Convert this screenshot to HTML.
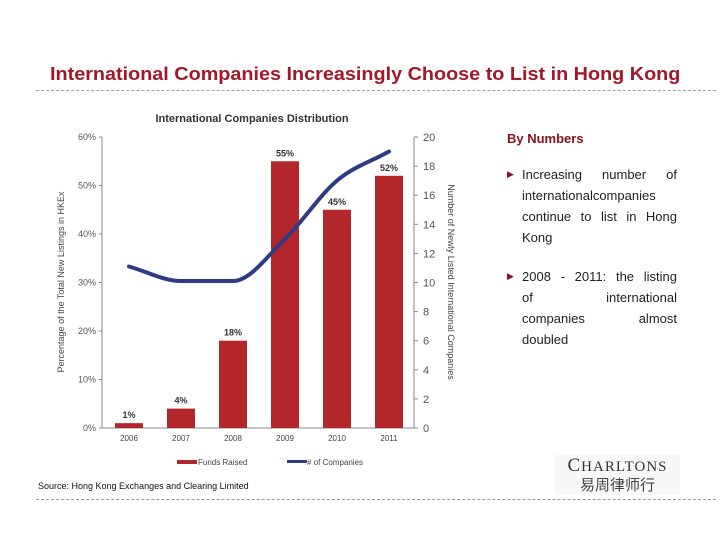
<!DOCTYPE html>
<html><head><meta charset="utf-8"><style>
body{margin:0;background:#fff;}
#wrap{position:relative;width:720px;height:540px;overflow:hidden;background:#fff;font-family:"Liberation Sans",sans-serif;}
.abs{position:absolute;}
.ln{text-align:justify;text-align-last:justify;white-space:nowrap;height:21px;}
.ln.last{text-align-last:left;}
</style></head><body>
<div id="wrap">
<div class="abs" style="left:50px;top:64px;font-size:18px;font-weight:bold;color:#a3172a;white-space:nowrap;transform-origin:0 0;transform:scaleX(1.1);">International Companies Increasingly Choose to List in Hong Kong</div>
<div class="abs" style="left:36px;top:90px;width:680px;border-top:1px dashed #9aa8a0;"></div>
<div class="abs" style="left:36px;top:499px;width:680px;border-top:1px dashed #999;"></div>
<div class="abs" style="left:38px;top:481px;font-size:9px;color:#111;">Source: Hong Kong Exchanges and Clearing Limited</div>
<div class="abs" style="left:507px;top:131px;font-size:13px;font-weight:bold;color:#8b1020;">By Numbers</div>
<div class="abs" style="left:507px;top:164px;width:170px;font-size:13px;line-height:21px;color:#222;">
 <div style="position:relative;padding-left:15px;"><span style="position:absolute;left:0;top:0;font-size:9px;color:#8b1020;">&#9654;</span>
  <div class="ln">Increasing number of</div><div class="ln last">internationalcompanies</div><div class="ln">continue to list in Hong</div><div class="ln last">Kong</div></div>
 <div style="position:relative;padding-left:15px;margin-top:18px;"><span style="position:absolute;left:0;top:0;font-size:9px;color:#8b1020;">&#9654;</span>
  <div class="ln">2008 - 2011: the listing</div><div class="ln">of international</div><div class="ln">companies almost</div><div class="ln last">doubled</div></div>
</div>
<div class="abs" style="left:555px;top:455px;width:125px;text-align:center;background:#f8f8f8;">
 <div style="font-family:'Liberation Serif',serif;font-size:19px;letter-spacing:1px;color:#333;">C<span style="font-size:15px">HARLTONS</span></div>
 <div style="font-family:'Liberation Sans','Noto Sans CJK SC',sans-serif;font-size:15px;color:#444;margin-top:-3px;">易周律师行</div>
</div>
<svg class="abs" style="left:0;top:0" width="720" height="540" id="chart"></svg>
</div>
<script>
const years=["2006","2007","2008","2009","2010","2011"];
const funds=[1,4,18,55,45,52];
const fundLabels=["1%","4%","18%","55%","45%","52%"];
const companies=[11.1,10.1,10.1,13,17,19];
const leftTicks=[0,10,20,30,40,50,60];
const rightTicks=[0,2,4,6,8,10,12,14,16,18,20];
const svg=document.getElementById('chart');
const NS='http://www.w3.org/2000/svg';
const X0=102,X1=414,YT=137,YB=428;
const yL=v=>YB-(v/60)*(YB-YT);
const yR=v=>YB-(v/20)*(YB-YT);
const xC=i=>129+i*52;
function mk(t,a,txt){const e=document.createElementNS(NS,t);for(const k in a)e.setAttribute(k,a[k]);if(txt!=null)e.textContent=txt;svg.appendChild(e);return e;}
let e;
e=mk('text',{x:252,y:122,'text-anchor':'middle','font-size':11,'font-weight':'bold',fill:'#333'},'International Companies Distribution');


e=mk('line',{x1:X0,y1:YT,x2:X0,y2:YB,stroke:'#888'});


e=mk('line',{x1:X1,y1:YT,x2:X1,y2:YB,stroke:'#888'});


e=mk('line',{x1:X0,y1:YB,x2:X1,y2:YB,stroke:'#888'});


leftTicks.forEach(v=>{
 mk('line',{x1:X0-3,y1:yL(v),x2:X0,y2:yL(v),stroke:'#888'});
 e=mk('text',{x:X0-6,y:yL(v)+3,'text-anchor':'end','font-size':9,fill:'#555'},v+'%');
 
 
});
rightTicks.forEach(v=>{
 mk('line',{x1:X1,y1:yR(v),x2:X1+4,y2:yR(v),stroke:'#888'});
 e=mk('text',{x:X1+9,y:yR(v)+4,'font-size':11,fill:'#555'},v);
 
 
});
years.forEach((y,i)=>{
 e=mk('rect',{x:xC(i)-14,y:yL(funds[i]),width:28,height:YB-yL(funds[i]),fill:'#b3272b'});
 
 
 e=mk('text',{x:xC(i),y:yL(funds[i])-5,'text-anchor':'middle','font-size':9,'font-weight':'bold',fill:'#333'},fundLabels[i]);
 
 
 e=mk('text',{x:xC(i),y:YB+13,'text-anchor':'middle','font-size':8,fill:'#444'},y);
 
 
});
// monotone cubic (Fritsch-Carlson) to avoid overshoot
const pts=companies.map((v,i)=>[xC(i),yR(v)]);
const n=pts.length,dl=[],m=[];
for(let i=0;i<n-1;i++)dl.push((pts[i+1][1]-pts[i][1])/(pts[i+1][0]-pts[i][0]));
m[0]=dl[0];m[n-1]=dl[n-2];
for(let i=1;i<n-1;i++)m[i]=(dl[i-1]*dl[i]<=0)?0:(dl[i-1]+dl[i])/2;
for(let i=0;i<n-1;i++){if(dl[i]===0){m[i]=0;m[i+1]=0;}}
let d='M'+pts[0][0]+','+pts[0][1];
for(let i=0;i<n-1;i++){
 const h=(pts[i+1][0]-pts[i][0])/3;
 d+=' C'+(pts[i][0]+h)+','+(pts[i][1]+m[i]*h)+' '+(pts[i+1][0]-h)+','+(pts[i+1][1]-m[i+1]*h)+' '+pts[i+1][0]+','+pts[i+1][1];
}
e=mk('path',{d:d,fill:'none',stroke:'#2e3b82','stroke-width':4,'stroke-linecap':'round','stroke-linejoin':'round'});


e=mk('text',{x:0,y:0,'font-size':9,fill:'#444',transform:'translate(64,282) rotate(-90)','text-anchor':'middle'},'Percentage of the Total New Listings in HKEx');


e=mk('text',{x:0,y:0,'font-size':9,fill:'#444',transform:'translate(448,282) rotate(90)','text-anchor':'middle'},'Number of Newly Listed International Companies');


e=mk('rect',{x:177,y:460,width:20,height:4,fill:'#b3272b'});


e=mk('text',{x:198,y:465,'font-size':8,fill:'#444'},'Funds Raised');


e=mk('rect',{x:287,y:460,width:20,height:3,fill:'#2e3b82'});


e=mk('text',{x:307,y:465,'font-size':8,fill:'#444'},'# of Companies');


</script>
</body></html>
